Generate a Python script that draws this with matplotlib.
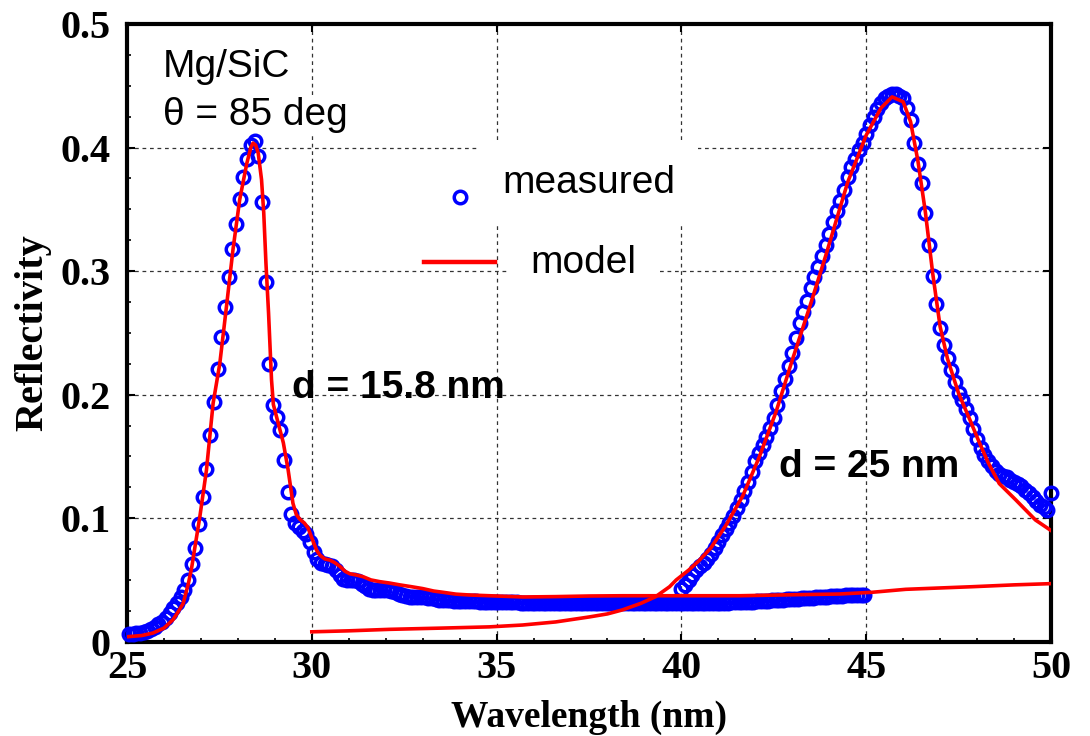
import numpy as np
import matplotlib
matplotlib.use("Agg")
import matplotlib.pyplot as plt
from matplotlib.ticker import MultipleLocator, FixedLocator

# ---------------- data ----------------
# measured, sample d = 15.8 nm (sampling grid 0.1 nm)
meas1_x = np.round(np.arange(25.05, 45.0, 0.1), 2)
meas1_y = [
    0.006, 0.006, 0.007, 0.007, 0.008, 0.009, 0.010, 0.012, 0.014, 0.016,
    0.019, 0.023, 0.027, 0.031, 0.036, 0.042, 0.050, 0.063, 0.076, 0.095,
    0.117, 0.140, 0.167, 0.194, 0.221, 0.247, 0.271, 0.295, 0.318, 0.338,
    0.358, 0.376, 0.391, 0.402, 0.405, 0.393, 0.356, 0.291, 0.225, 0.192,
    0.182, 0.171, 0.147, 0.121, 0.103, 0.096, 0.093, 0.090, 0.087, 0.081,
    0.073, 0.067, 0.064, 0.063, 0.062, 0.061, 0.058, 0.054, 0.051, 0.050,
    0.050, 0.050, 0.049, 0.047, 0.045, 0.043, 0.042, 0.042, 0.042, 0.042,
    0.042, 0.041, 0.040, 0.039, 0.038, 0.037, 0.0365, 0.036, 0.036, 0.036,
    0.0358, 0.0355, 0.035, 0.0345, 0.034, 0.034, 0.0338, 0.0335, 0.0333, 0.033,
    0.033, 0.033, 0.0328, 0.0327, 0.0326, 0.0325, 0.0325, 0.0324, 0.0323, 0.0322,
    0.0321, 0.032, 0.032, 0.032, 0.0319, 0.0318, 0.0317, 0.0316, 0.0315, 0.0314,
    0.0313, 0.0312, 0.0311, 0.031, 0.031, 0.031, 0.031, 0.031, 0.031, 0.031,
    0.031, 0.031, 0.031, 0.031, 0.031, 0.031, 0.031, 0.031, 0.031, 0.031,
    0.031, 0.031, 0.031, 0.031, 0.031, 0.031, 0.031, 0.031, 0.031, 0.031,
    0.031, 0.031, 0.031, 0.031, 0.031, 0.031, 0.031, 0.031, 0.031, 0.031,
    0.031, 0.031, 0.031, 0.0311, 0.0311, 0.0312, 0.0312, 0.0313, 0.0313, 0.0314,
    0.0315, 0.0316, 0.0317, 0.0318, 0.0319, 0.032, 0.0321, 0.0322, 0.0323, 0.0324,
    0.0326, 0.0328, 0.033, 0.0332, 0.0334, 0.0336, 0.0338, 0.034, 0.0342, 0.0344,
    0.0346, 0.0348, 0.035, 0.0352, 0.0354, 0.0356, 0.0358, 0.036, 0.0362, 0.0364,
    0.0366, 0.0368, 0.037, 0.0372, 0.0374, 0.0376, 0.0378, 0.038, 0.0381, 0.0382,
]

# measured, sample d = 25 nm (sampling grid 0.1 nm)
meas2_x = np.round(np.arange(40.0, 50.01, 0.1), 2)
meas2_y = [
    0.043, 0.046, 0.050, 0.054, 0.058, 0.061, 0.064, 0.067, 0.071, 0.076,
    0.081, 0.086, 0.091, 0.096, 0.102, 0.108, 0.115, 0.122, 0.129, 0.137,
    0.146, 0.153, 0.159, 0.166, 0.173, 0.181, 0.192, 0.203, 0.213, 0.223,
    0.234, 0.246, 0.258, 0.267, 0.276, 0.286, 0.295, 0.303, 0.312, 0.321,
    0.330, 0.340, 0.349, 0.357, 0.366, 0.376, 0.384, 0.391, 0.398, 0.404,
    0.411, 0.418, 0.425, 0.431, 0.436, 0.440, 0.442, 0.443, 0.443, 0.442,
    0.440, 0.432, 0.422, 0.404, 0.387, 0.371, 0.347, 0.321, 0.296, 0.273,
    0.254, 0.240, 0.230, 0.220, 0.210, 0.201, 0.196, 0.188, 0.181, 0.172,
    0.164, 0.157, 0.151, 0.146, 0.142, 0.138, 0.136, 0.134, 0.133, 0.131,
    0.129, 0.128, 0.126, 0.123, 0.120, 0.117, 0.114, 0.111, 0.109, 0.107,
    0.120,
]

# model for d = 15.8 nm
model1_x = [25.0, 25.4, 25.7, 26.0, 26.25, 26.4, 26.52, 26.66, 26.75, 26.84,
            26.97, 27.15, 27.33, 27.51, 27.69, 27.87, 28.05, 28.24, 28.35, 28.41,
            28.48, 28.55, 28.64, 28.70, 28.76, 28.83, 28.91, 28.96, 29.09, 29.23,
            29.36, 29.49, 29.58, 29.68, 29.80, 29.90, 30.0, 30.13, 30.22, 30.35,
            30.49, 30.62, 30.76, 30.9, 31.03, 31.2, 31.39, 31.6, 31.84, 32.1,
            32.38, 32.7, 33.0, 33.3, 33.55, 33.9, 34.27, 34.99, 35.71, 36.61,
            37.51, 38.41, 39.3, 40.5, 41.57, 43.0, 44.27, 45.16, 46.07, 47.0,
            47.86, 49.0, 50.0]
model1_y = [0.004, 0.005, 0.007, 0.011, 0.018, 0.025, 0.031, 0.047, 0.060, 0.077,
            0.101, 0.139, 0.193, 0.225, 0.271, 0.318, 0.358, 0.387, 0.400, 0.4036,
            0.402, 0.3955, 0.374, 0.347, 0.306, 0.266, 0.212, 0.192, 0.177, 0.161,
            0.139, 0.112, 0.103, 0.099, 0.096, 0.092, 0.084, 0.074, 0.070, 0.067,
            0.066, 0.064, 0.061, 0.057, 0.055, 0.054, 0.0526, 0.050, 0.0486, 0.0475,
            0.046, 0.0445, 0.043, 0.041, 0.040, 0.0385, 0.0378, 0.037, 0.0362, 0.0365,
            0.037, 0.0372, 0.0372, 0.0372, 0.0372, 0.038, 0.0386, 0.040, 0.0424, 0.0435,
            0.0445, 0.046, 0.047]

# model for d = 25 nm
model2_x = [30.0, 31.0, 32.1, 33.5, 34.8, 35.7, 36.6, 37.5, 38.0, 38.4,
            38.9, 39.3, 39.68, 39.86, 40.2, 40.49, 40.8, 41.2, 41.66, 42.1,
            42.56, 43.0, 43.46, 43.91, 44.5, 45.0, 45.4, 45.7, 46.0, 46.2,
            46.4, 46.6, 46.8, 47.0, 47.2, 47.5, 47.8, 48.05, 48.3, 48.6,
            49.04, 49.58, 50.0]
model2_y = [0.008, 0.0088, 0.010, 0.011, 0.012, 0.0135, 0.016, 0.020, 0.0225, 0.0257,
            0.031, 0.0364, 0.0445, 0.050, 0.058, 0.066, 0.076, 0.094, 0.118, 0.149,
            0.186, 0.228, 0.270, 0.313, 0.372, 0.410, 0.432, 0.441, 0.437, 0.421,
            0.389, 0.348, 0.298, 0.255, 0.229, 0.201, 0.180, 0.162, 0.145, 0.128,
            0.115, 0.0985, 0.090]

x_ticks = [25, 30, 35, 40, 45, 50]
y_ticks = [0, 0.1, 0.2, 0.3, 0.4, 0.5]
y_ticklabels = ["0", "0.1", "0.2", "0.3", "0.4", "0.5"]

# ---------------- figure ----------------
W, H = 1090, 736
fig = plt.figure(figsize=(W / 100, H / 100), dpi=100)
ax = fig.add_axes([127 / W, (H - 641.7) / H, (1051 - 127) / W, (641.7 - 24) / H])

blue = "#0000ff"
red = "#ff0000"

mk = dict(linestyle="none", marker="o", markersize=9.0, markerfacecolor="none",
          markeredgecolor=blue, markeredgewidth=2.5, zorder=3, clip_on=False)
ax.plot(meas1_x, meas1_y, **mk)
ax.plot(meas2_x, meas2_y, **mk)
ax.plot(model1_x, model1_y, color=red, lw=2.6, zorder=4)
ax.plot(model2_x, model2_y, color=red, lw=2.6, zorder=4)

ax.set_xlim(25, 50)
ax.set_ylim(0, 0.5)

ax.xaxis.set_major_locator(FixedLocator(x_ticks))
ax.yaxis.set_major_locator(FixedLocator(y_ticks))
ax.set_yticklabels(y_ticklabels)
ax.xaxis.set_minor_locator(MultipleLocator(1))
ax.yaxis.set_minor_locator(MultipleLocator(0.025))

for lab in ax.get_xticklabels() + ax.get_yticklabels():
    lab.set_fontfamily("Liberation Serif")
    lab.set_fontweight("bold")
    lab.set_fontsize(29)

ax.tick_params(which="major", direction="in", length=6, width=1.5,
               top=True, right=True, colors="black")
ax.tick_params(which="minor", direction="in", length=3, width=1.2,
               top=False, right=False)
ax.tick_params(axis="y", which="major", pad=12)
ax.tick_params(axis="x", which="major", pad=6)

for s in ax.spines.values():
    s.set_linewidth(3.0)
    s.set_color("black")

ax.grid(True, which="major", linestyle=(0, (3, 3)), color="#333333", lw=0.9, zorder=0)

ax.set_xlabel("Wavelength (nm)", fontfamily="Liberation Serif", fontweight="bold",
              fontsize=27, labelpad=9)
ax.set_ylabel("Reflectivity", fontfamily="Liberation Serif", fontweight="bold",
              fontsize=29, labelpad=6)

sans = "Liberation Sans"
ax.text(25.97, 0.465, "Mg/SiC", fontfamily=sans, fontsize=28, va="center", ha="left")
ax.text(25.97, 0.4265, "θ = 85 deg", fontfamily=sans, fontsize=28, va="center", ha="left",
        bbox=dict(facecolor="white", edgecolor="none", pad=1), zorder=2)
ax.text(29.46, 0.2054, "d = 15.8 nm", fontfamily=sans, fontweight="bold", fontsize=28,
        va="center", ha="left", zorder=5)
ax.text(42.65, 0.1414, "d = 25 nm", fontfamily=sans, fontweight="bold", fontsize=28,
        va="center", ha="left", zorder=5)

# legend (drawn inside the plot as in the original)
ax.plot([34.0], [0.360], **mk)
ax.plot([33.03, 34.97], [0.3074, 0.3074], color=red, lw=3.2, zorder=4)
ax.text(35.16, 0.3714, "measured", fontfamily=sans, fontsize=28, va="center", ha="left",
        bbox=dict(facecolor="white", edgecolor="none", pad=16), zorder=2)
ax.text(35.92, 0.3066, "model", fontfamily=sans, fontsize=28, va="center", ha="left",
        bbox=dict(facecolor="white", edgecolor="none", pad=16), zorder=2)

fig.savefig("out.png", dpi=100)
